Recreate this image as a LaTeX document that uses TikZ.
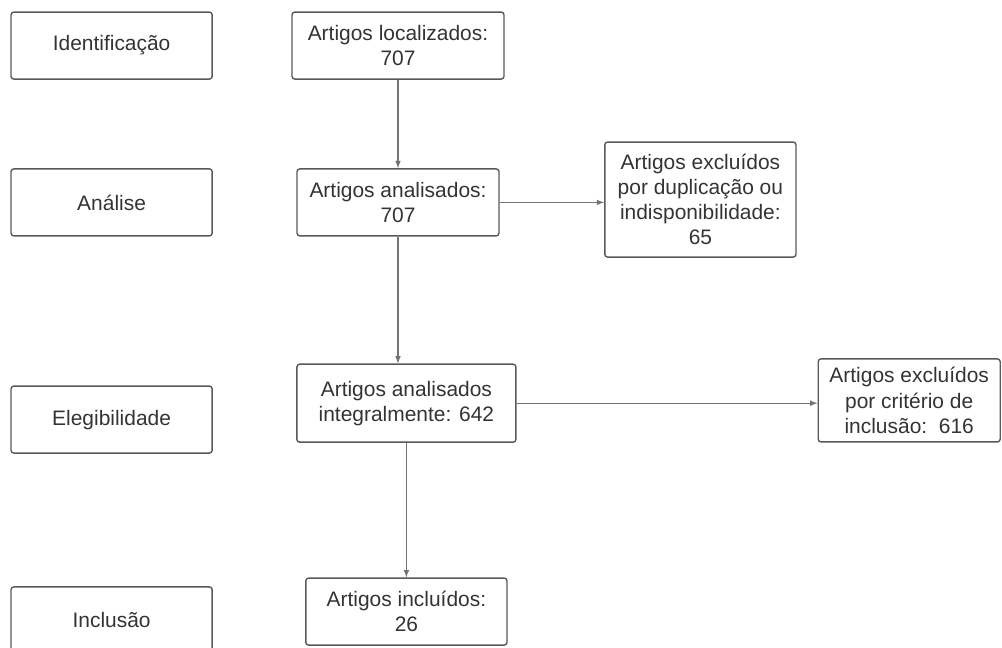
\documentclass[tikz,border=0pt]{standalone}
\usepackage{fontspec}
\setmainfont{Liberation Sans}
\usepackage{color}
\definecolor{boxgray}{rgb}{0.35, 0.35, 0.35}
\definecolor{linegray}{rgb}{0.45, 0.45, 0.45}
\definecolor{textgray}{rgb}{0.2, 0.2, 0.2}
\usepackage{tikz}
\usetikzlibrary{calc}

\begin{document}
\begin{tikzpicture}[
      caixa/.style={draw=boxgray, line width=1pt, rounded corners=2pt, align=center,
        text=textgray, inner sep=0pt, font=\fontsize{14.9}{17.8}\selectfont},
      seta/.style={-latex, draw=linegray, line width=0.8pt}]
      \clip (0,0) rectangle (25.05,-16.2);
      \node [caixa, minimum width=5.03cm, minimum height=1.675cm] (ident) at (2.79,-1.14) {Identificação};
      \node [caixa, minimum width=5.03cm, minimum height=1.675cm] (analise) at (2.79,-5.06) {Análise};
      \node [caixa, minimum width=5.03cm, minimum height=1.675cm] (eleg) at (2.79,-10.49) {Elegibilidade};
      \node [caixa, minimum width=5.03cm, minimum height=1.675cm] (inclusao) at (2.79,-15.51) {Inclusão};
      \node [caixa, minimum width=5.30cm, minimum height=1.675cm] (local) at (9.95,-1.14) {Artigos localizados:\\707};
      \node [caixa, minimum width=5.05cm, minimum height=1.675cm] (anal) at (9.95,-5.06) {Artigos analisados:\\707};
      \node [caixa, minimum width=4.78cm, minimum height=2.875cm] (dupl) at (17.51,-4.99) {Artigos excluídos\\por duplicação ou\\indisponibilidade:\\65};
      \node [caixa, minimum width=5.475cm, minimum height=1.95cm] (integ) at (10.16,-10.08) {Artigos analisados\\integralmente: 642};
      \node [caixa, minimum width=4.55cm, minimum height=2.075cm] (crit) at (22.73,-10.01) {Artigos excluídos\\por critério de\\inclusão:\ \ 616};
      \node [caixa, minimum width=5.03cm, minimum height=1.675cm] (incl) at (10.16,-15.29) {Artigos incluídos:\\26};
      \draw [seta] (local) -- (anal);
      \draw [seta] (anal.east) -- (anal.east -| dupl.west);
      \draw [seta] (anal.south) -- (anal.south |- integ.north);
      \draw [seta] (integ.east) -- (integ.east -| crit.west);
      \draw [seta] (integ) -- (incl);
\end{tikzpicture}
\end{document}
